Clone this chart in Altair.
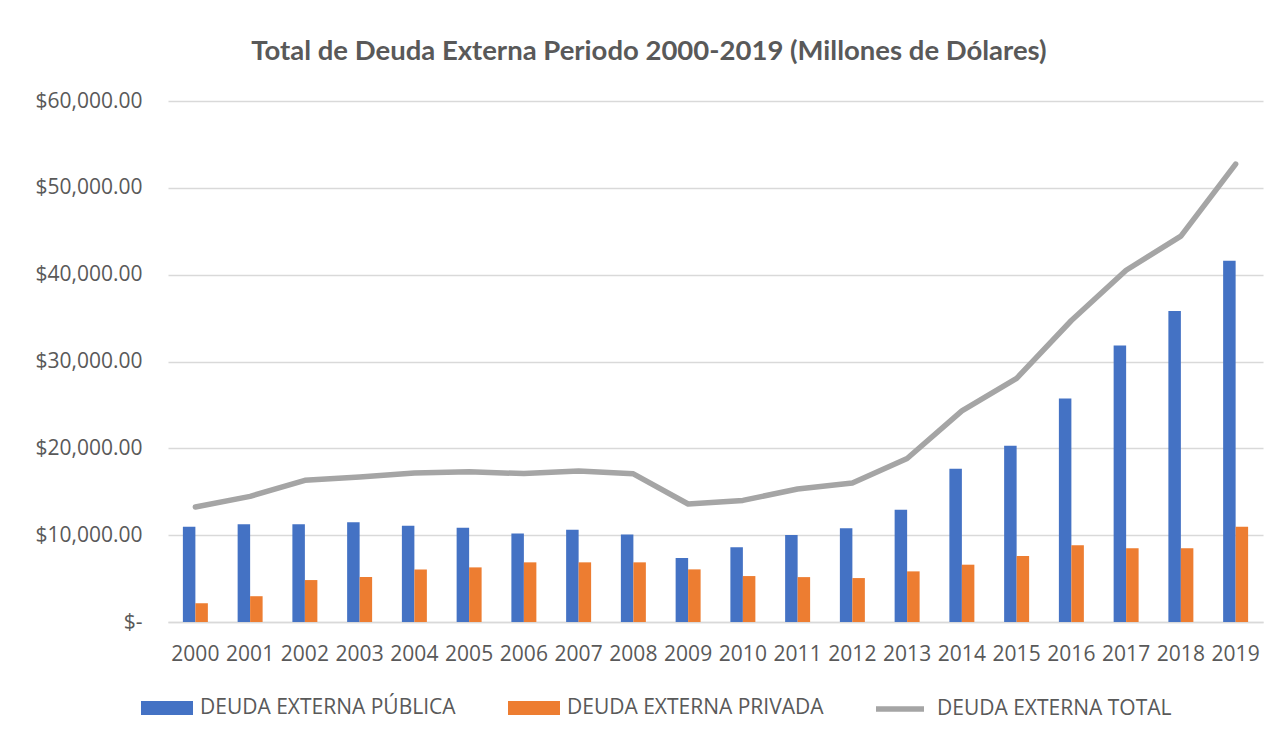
import altair as alt
import pandas as pd

years = [str(y) for y in range(2000, 2020)]
publica = [10960, 11270, 11270, 11500, 11080, 10850, 10190, 10610, 10070, 7370,
           8610, 10030, 10810, 12930, 17640, 20300, 25740, 31830, 35810, 41590]
privada = [2160, 2970, 4830, 5180, 6060, 6290, 6870, 6870, 6870, 6060,
           5290, 5170, 5060, 5830, 6600, 7600, 8840, 8490, 8490, 10960]
total = [13240, 14470, 16320, 16700, 17170, 17290, 17090, 17400, 17060, 13590,
         14000, 15320, 16020, 18830, 24310, 28060, 34720, 40510, 44440, 52740]

s_pub = "DEUDA EXTERNA PÚBLICA"
s_pri = "DEUDA EXTERNA PRIVADA"
s_tot = "DEUDA EXTERNA TOTAL"
bar_series = [s_pub, s_pri]
bar_colors = ["#4472C4", "#ED7D31"]
line_color = "#A5A5A5"

bars_df = pd.DataFrame({
    "year": years * 2,
    "serie": [s_pub] * len(years) + [s_pri] * len(years),
    "value": publica + privada,
})
line_df = pd.DataFrame({"year": years, "serie": [s_tot] * len(years), "value": total})

FONT = "Open Sans"
GRAY_TXT = "#595959"

legend_common = dict(
    title=None,
    orient="none",
    direction="horizontal",
    labelFont=FONT,
    labelFontSize=21,
    labelColor=GRAY_TXT,
    labelLimit=400,
)

x_enc = alt.X(
    "year:N",
    sort=years,
    scale=alt.Scale(paddingInner=0.544, paddingOuter=0.272, round=False),
    axis=alt.Axis(
        title=None, labelAngle=0, ticks=False, domain=True, domainColor="#D9D9D9",
        domainWidth=1.5, labelFont=FONT, labelFontSize=21, labelColor=GRAY_TXT,
        labelPadding=21, grid=False,
    ),
)
y_enc = alt.Y(
    "value:Q",
    scale=alt.Scale(domain=[0, 60000], nice=False),
    axis=alt.Axis(
        title=None, values=[0, 10000, 20000, 30000, 40000, 50000, 60000],
        labelExpr="datum.value == 0 ? '$-' : '$' + format(datum.value, ',.2f')",
        ticks=False, domain=False, grid=True, gridColor="#D9D9D9", gridWidth=1.5,
        labelFont=FONT, labelFontSize=21, labelColor=GRAY_TXT, labelPadding=26,
    ),
)

bars = alt.Chart(bars_df).mark_bar(size=12.5).encode(
    x=x_enc,
    xOffset=alt.XOffset("serie:N", sort=bar_series),
    y=y_enc,
    fill=alt.Fill(
        "serie:N",
        scale=alt.Scale(domain=bar_series, range=bar_colors),
        legend=alt.Legend(
            legendX=-27, legendY=581,
            symbolType="M-1,-0.27H1V0.27H-1Z", symbolSize=2704,
            symbolStrokeWidth=0, symbolOpacity=1,
            labelOffset=7, columnPadding=52,
            **legend_common,
        ),
    ),
)

line = alt.Chart(line_df).mark_line(
    strokeWidth=5.5, strokeCap="round", strokeJoin="round"
).encode(
    x=alt.X("year:N", sort=years),
    y=alt.Y("value:Q"),
    stroke=alt.Stroke(
        "serie:N",
        scale=alt.Scale(domain=[s_tot], range=[line_color]),
        legend=alt.Legend(
            legendX=705, legendY=581,
            symbolType="stroke", symbolSize=2304, symbolStrokeWidth=5.5,
            labelOffset=10,
            **legend_common,
        ),
    ),
)

chart = alt.layer(bars, line).resolve_scale(
    fill="independent", stroke="independent"
).properties(
    width=1095,
    height=521,
    background="white",
    title=alt.TitleParams(
        "Total de Deuda Externa Periodo 2000-2019 (Millones de Dólares)",
        font="Lato", fontSize=27.5, fontWeight="bold", color=GRAY_TXT,
        anchor="middle", frame="bounds", offset=25,
    ),
    autosize=alt.AutoSizeParams(type="none"),
    padding={"left": 160, "top": 93, "right": 8, "bottom": 100},
).configure_view(strokeWidth=0, stroke="transparent")

chart.save("out.html", embed_options={"renderer": "svg", "actions": False})
